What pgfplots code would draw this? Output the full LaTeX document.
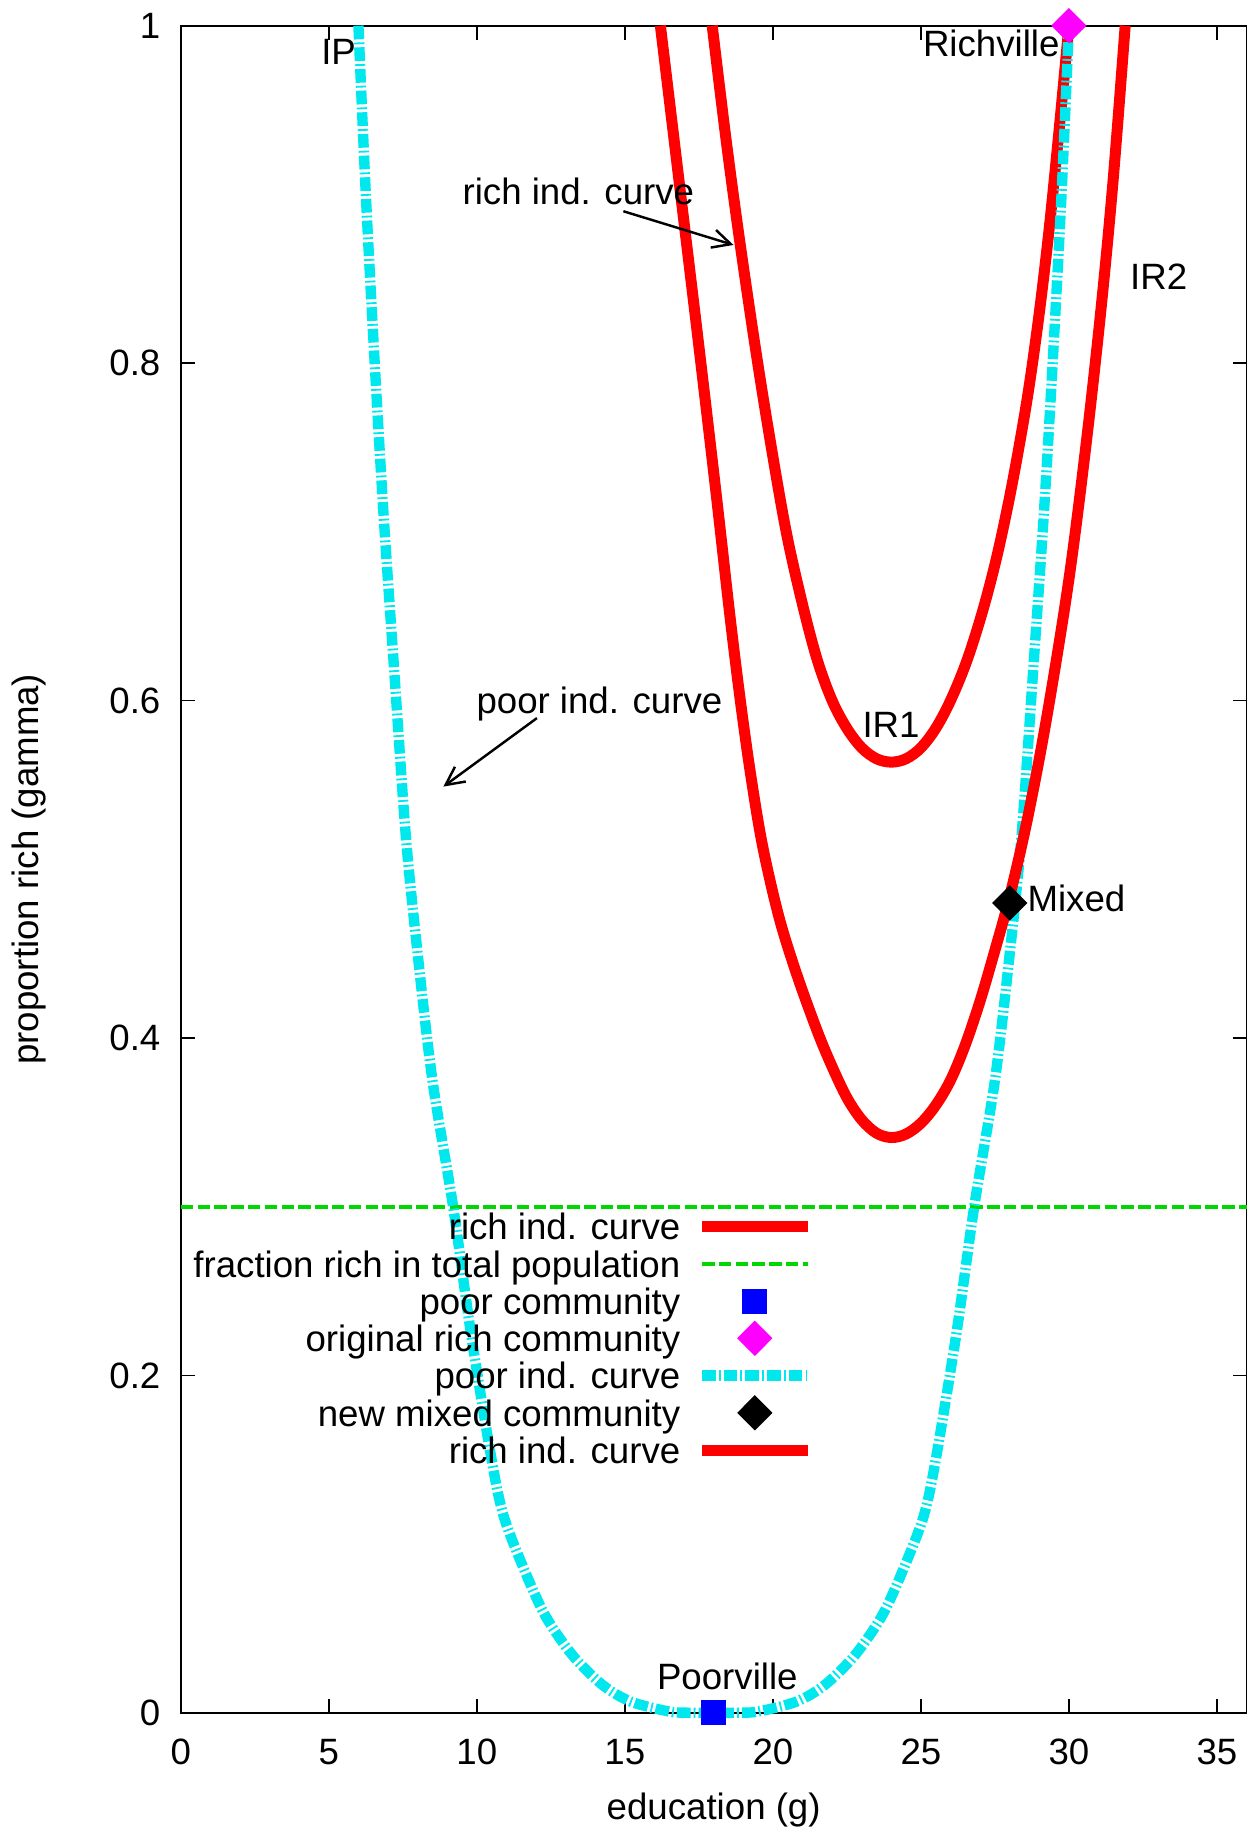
\documentclass[border=0pt]{standalone}
\usepackage{fontspec}
\setmainfont{Liberation Sans}
\usepackage{pgfplots}
\pgfplotsset{compat=1.18}
\usetikzlibrary{arrows.meta}
\definecolor{gred}{RGB}{255,0,0}
\definecolor{ggreen}{RGB}{0,215,0}
\definecolor{gcyan}{RGB}{0,232,238}
\definecolor{gblue}{RGB}{0,0,255}
\definecolor{gmag}{RGB}{255,0,255}
\begin{document}
\fontsize{12pt}{14pt}\selectfont
\begin{tikzpicture}[font=\fontsize{12pt}{14pt}\selectfont]
\begin{axis}[
  scale only axis, width=349pt, height=552.5pt,
  xmin=0, xmax=36, ymin=0, ymax=1,
  xtick={0,5,...,35}, ytick={0,0.2,0.4,0.6,0.8,1},
  yticklabels={0,0.2,0.4,0.6,0.8,1},
  tick align=inside, major tick length=4.6pt,
  tick style={black, line width=0.6pt},
  axis line style={line width=0.6pt},
  /pgf/number format/assume math mode=true,
  xticklabel style={yshift=-4.4pt},
  yticklabel style={xshift=-2.5pt},
  clip=false,
  xlabel={education (g)}, ylabel={proportion rich (gamma)},
  every axis x label/.style={at={(axis description cs:0.5,-0.0576)},anchor=center},
  every axis y label/.style={at={(axis description cs:-0.142,0.5)},rotate=90,anchor=center},
  legend style={at={(axis cs:21.36,0.2984)}, anchor=north east, draw=none, fill=none,
    inner sep=0pt, outer sep=0pt, row sep=1pt, column sep=5.3pt,
    font=\fontsize{12pt}{14pt}\selectfont,
    nodes={inner sep=0pt, text height=10pt, text depth=1.2pt}},
  legend cell align=right,
  legend plot pos=right,
  legline/.style={legend image code/.code={\draw[##1] (0pt,0pt) -- (34.6pt,0pt);}},
  legmark/.style={legend image code/.code={\draw[##1] plot coordinates {(17.3pt,0pt)};}},
]
% IR1 rich indifference curve
\addplot[gred, line width=3.6pt, smooth, tension=0.55, legline] table {
x y
17.95 1.0
18.4 0.935
18.85 0.876
19.4 0.81
19.9 0.755
20.45 0.700
21.0 0.657
21.5 0.624
22.0 0.600
22.5 0.5835
23.0 0.572
23.5 0.5655
24.0 0.5635
24.5 0.5655
25.0 0.572
25.5 0.5835
26.0 0.600
26.55 0.6235
27.1 0.654
27.6 0.688
28.1 0.730
28.6 0.780
29.0 0.830
29.35 0.8825
29.7 0.944
30.0 1.0
};
\addlegendentry{rich ind. curve}
% fraction rich
\addplot[ggreen, line width=1.3pt, dash pattern=on 4.1pt off 1.4pt, legline] coordinates {(0,0.3) (36,0.3)};
\addlegendentry{fraction rich in total population}
% poor community
\addplot[only marks, mark=square*, mark size=3.9pt, color=gblue, legmark] coordinates {(18.0,0)};
\addlegendentry{poor community}
% original rich community
\addplot[only marks, mark=diamond*, mark size=5.5pt, color=gmag, mark options={xscale=1.33}, legmark] coordinates {(30,1)};
\addlegendentry{original rich community}
% poor indifference curve
\addplot[gcyan, line width=3.4pt, smooth, tension=0.5, dash pattern=on 4.5pt off 1pt on 0.6pt off 1pt, legline] table {
x y
6.0 1.0
6.25 0.90
6.55 0.80
6.85 0.71
7.2 0.62
7.6 0.52
8.0 0.45
8.5 0.375
9.2 0.30
9.8 0.225
10.5 0.15
10.9 0.117
11.55 0.087
12.3 0.058
13.23 0.0342
14.25 0.0165
15.2 0.0067
16.5 0.0008
17.25 0.0001
18.0 0.0
18.75 0.0001
19.5 0.0008
20.8 0.0067
21.75 0.0165
22.77 0.0342
23.7 0.058
24.45 0.087
25.1 0.117
25.5 0.15
26.2 0.225
26.8 0.30
27.5 0.375
28.0 0.45
28.4 0.52
28.8 0.62
29.15 0.71
29.45 0.80
29.75 0.90
30.0 1.0
};
\addlegendentry{poor ind. curve}
% new mixed community
\addplot[only marks, mark=diamond*, mark size=5.5pt, color=black, mark options={xscale=1.33}, legmark] coordinates {(28.0,0.48)};
\addlegendentry{new mixed community}
% IR2 rich indifference curve
\addplot[gred, line width=3.6pt, smooth, tension=0.55, legline] table {
x y
16.2 1.0
16.85 0.905
17.5 0.81
18.1 0.72
18.55 0.65
18.9 0.6
19.25 0.556
19.65 0.514
20.2 0.472
20.8 0.438
21.5 0.404
22.0 0.383
22.5 0.3646
23.0 0.3515
23.5 0.3436
24.0 0.341
24.5 0.3431
25.0 0.3495
25.5 0.3601
26.0 0.375
26.5 0.396
27.0 0.422
27.5 0.452
28.0 0.484
28.6 0.53
29.25 0.59
30.0 0.672
30.6 0.755
31.1 0.835
31.5 0.91
31.9 1.0
};
\addlegendentry{rich ind. curve}
% annotations
\node[anchor=base] at (axis cs:5.33,0.977) {IP};
\node[anchor=base east, inner sep=0pt] at (axis cs:29.7,0.982) {Richville};
\node[anchor=base] at (axis cs:13.43,0.894) {rich ind. curve};
\draw[line width=0.8pt, -{Straight Barb[length=6pt,width=6pt]}] (axis cs:14.95,0.890) -- (axis cs:18.67,0.870);
\node[anchor=base] at (axis cs:33.03,0.8436) {IR2};
\node[anchor=base] at (axis cs:14.14,0.5926) {poor ind. curve};
\draw[line width=0.8pt, -{Straight Barb[length=6pt,width=6pt]}] (axis cs:12.03,0.5896) -- (axis cs:8.87,0.549);
\node[anchor=base] at (axis cs:23.99,0.578) {IR1};
\node[anchor=base west, inner sep=0pt] at (axis cs:28.58,0.475) {Mixed};
\node[anchor=base] at (axis cs:18.46,0.0136) {Poorville};
\end{axis}
\pgfresetboundingbox
\path[use as bounding box] ([shift={(-59.2pt,-39pt)}]current axis.south west) rectangle ([shift={(3.8pt,8.4pt)}]current axis.north east);
\end{tikzpicture}
\end{document}
